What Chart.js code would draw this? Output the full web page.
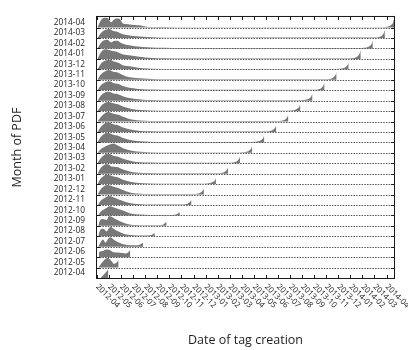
<!DOCTYPE html>
<html>
<head>
<meta charset="utf-8">
<script src="https://cdn.jsdelivr.net/npm/chart.js@4.4.1/dist/chart.umd.min.js"></script>
<style>
html,body{margin:0;padding:0;background:#fff;}
#wrap{width:408px;height:350px;}
</style>
</head>
<body>
<div id="wrap"><canvas id="c" width="408" height="350"></canvas></div>
<script>
// Categories: month of PDF (rows) and month of tag creation (x ticks)
const months = ['2012-04','2012-05','2012-06','2012-07','2012-08','2012-09','2012-10','2012-11','2012-12',
  '2013-01','2013-02','2013-03','2013-04','2013-05','2013-06','2013-07','2013-08','2013-09','2013-10',
  '2013-11','2013-12','2014-01','2014-02','2014-03','2014-04'];
const xTickLabels = months;
const xTitle = 'Date of tag creation';
const yTitle = 'Month of PDF';

// Density per row: [month index of tag creation, relative density height (1 = row spacing)]
const p2012_04 = [[0.3,0],[0.55,0.3],[0.8,0.62],[0.93,0.82],[0.95,0]];
const p2012_05 = [[0.12,0],[0.35,0.38],[0.6,0.72],[0.85,0.92],[1.0,0.88],[1.2,0.62],[1.4,0.34],[1.6,0.45],[1.78,0.68],[1.8,0]];
const p2012_06 = [[0.14,0],[0.18,0.5],[0.5,0.6],[0.8,0.72],[1.0,0.7],[1.3,0.5],[1.7,0.44],[2.1,0.4],[2.4,0.36],[2.6,0.46],[2.75,0.66],[2.77,0]];
const p2012_07 = [[0.1,0],[0.3,0.42],[0.5,0.68],[0.7,0.38],[0.9,0.72],[1.1,0.9],[1.4,0.66],[1.8,0.4],[2.1,0.25],[2.5,0.17],[3.0,0.14],[3.4,0.15],[3.65,0.27],[3.8,0.38],[3.82,0]];
const p2012_08 = [[0.1,0],[0.25,0.55],[0.45,0.72],[0.6,0.68],[0.8,0.45],[1.0,0.82],[1.15,0.9],[1.4,0.7],[1.8,0.45],[2.2,0.25],[2.6,0.14],[3.0,0.09],[3.5,0.07],[4.0,0.07],[4.5,0.12],[4.78,0.3],[4.8,0]];
const p2012_09 = [[0.1,0],[0.25,0.5],[0.45,0.66],[0.65,0.6],[0.8,0.56],[1.0,0.95],[1.2,0.86],[1.5,0.65],[1.9,0.45],[2.3,0.25],[2.7,0.14],[3.2,0.08],[4.0,0.05],[5.0,0.05],[5.5,0.12],[5.76,0.36],[5.78,0]];
const p2012_10 = [[0.1,0],[0.3,0.35],[0.6,0.6],[0.8,0.72],[1.0,0.88],[1.2,0.85],[1.5,0.7],[1.8,0.6],[2.1,0.5],[2.5,0.3],[2.9,0.15],[3.5,0.08],[4.5,0.05],[5.5,0.04],[6.3,0.05],[6.65,0.13],[6.85,0.3],[6.87,0]];
const p2012_11 = [[0.08,0],[0.3,0.4],[0.6,0.65],[0.85,0.82],[1.0,0.86],[1.3,0.76],[1.6,0.62],[2.0,0.45],[2.4,0.28],[2.8,0.16],[3.3,0.09],[4.0,0.05],[5.5,0.035],[7.0,0.04],[7.45,0.1],[7.68,0.25],[7.82,0.45],[7.84,0]];
const p2012_12 = [[0.05,0],[0.25,0.42],[0.5,0.72],[0.8,0.92],[1.0,0.9],[1.3,0.78],[1.7,0.65],[2.0,0.5],[2.4,0.32],[2.8,0.18],[3.3,0.1],[4.0,0.06],[5.5,0.04],[7.9,0.04],[8.4,0.1],[8.65,0.24],[8.78,0.4],[8.85,0.56],[8.87,0]];
const p2013_01 = [[0.05,0],[0.25,0.45],[0.55,0.78],[0.8,0.92],[1.0,0.88],[1.3,0.76],[1.7,0.66],[2.1,0.45],[2.5,0.3],[3.0,0.17],[3.5,0.1],[4.2,0.06],[6.0,0.04],[8.9,0.04],[9.4,0.1],[9.65,0.24],[9.78,0.38],[9.85,0.55],[9.87,0]];
const p2013_02 = [[0.05,0],[0.25,0.45],[0.55,0.8],[0.8,0.93],[1.0,0.85],[1.2,0.68],[1.5,0.65],[1.75,0.62],[2.1,0.42],[2.5,0.27],[2.9,0.16],[3.5,0.1],[4.2,0.06],[6.0,0.04],[9.9,0.04],[10.4,0.1],[10.65,0.24],[10.78,0.4],[10.85,0.57],[10.87,0]];
const p2013_03 = [[0.05,0],[0.25,0.4],[0.55,0.75],[0.85,0.92],[1.05,0.88],[1.35,0.72],[1.7,0.64],[2.1,0.45],[2.5,0.3],[3.0,0.17],[3.6,0.1],[4.3,0.06],[6.0,0.04],[10.9,0.04],[11.4,0.1],[11.65,0.25],[11.78,0.42],[11.85,0.6],[11.87,0]];
const p2013_04 = [[0.05,0],[0.3,0.35],[0.6,0.55],[0.9,0.72],[1.2,0.85],[1.4,0.9],[1.6,0.78],[1.9,0.6],[2.2,0.42],[2.6,0.28],[3.0,0.18],[3.6,0.1],[4.3,0.06],[6.0,0.04],[11.9,0.04],[12.4,0.1],[12.65,0.25],[12.78,0.42],[12.85,0.6],[12.87,0]];
const p2013_05 = [[0.05,0],[0.25,0.42],[0.55,0.78],[0.85,0.92],[1.05,0.88],[1.35,0.74],[1.7,0.66],[2.1,0.45],[2.5,0.3],[3.0,0.18],[3.6,0.1],[4.3,0.06],[6.0,0.04],[12.9,0.04],[13.4,0.1],[13.65,0.25],[13.78,0.42],[13.85,0.6],[13.87,0]];
const p2013_06 = [[0.05,0],[0.3,0.45],[0.6,0.78],[0.9,0.9],[1.1,0.86],[1.4,0.72],[1.75,0.65],[2.1,0.45],[2.5,0.3],[3.0,0.18],[3.6,0.1],[4.3,0.06],[6.0,0.04],[13.9,0.04],[14.4,0.1],[14.65,0.25],[14.78,0.43],[14.85,0.62],[14.87,0]];
const p2013_07 = [[0.05,0],[0.3,0.42],[0.6,0.75],[0.95,0.9],[1.15,0.85],[1.45,0.72],[1.8,0.64],[2.15,0.45],[2.55,0.3],[3.0,0.18],[3.6,0.1],[4.4,0.06],[6.0,0.04],[14.9,0.04],[15.4,0.1],[15.65,0.25],[15.78,0.43],[15.85,0.62],[15.87,0]];
const p2013_08 = [[0.05,0],[0.3,0.45],[0.6,0.76],[0.95,0.88],[1.2,0.8],[1.5,0.7],[1.8,0.64],[2.15,0.45],[2.55,0.3],[3.0,0.18],[3.6,0.1],[4.4,0.06],[6.0,0.04],[15.9,0.04],[16.4,0.1],[16.65,0.26],[16.78,0.44],[16.85,0.64],[16.87,0]];
const p2013_09 = [[0.05,0],[0.3,0.45],[0.6,0.75],[1.0,0.86],[1.3,0.72],[1.6,0.65],[1.9,0.55],[2.2,0.4],[2.7,0.25],[3.2,0.15],[3.8,0.09],[4.5,0.06],[6.0,0.04],[16.9,0.04],[17.4,0.1],[17.65,0.26],[17.78,0.45],[17.85,0.65],[17.87,0]];
const p2013_10 = [[0.05,0],[0.3,0.45],[0.65,0.75],[1.03,0.86],[1.35,0.7],[1.72,0.62],[2.05,0.45],[2.41,0.31],[2.8,0.21],[3.24,0.15],[3.8,0.1],[4.6,0.06],[6.0,0.04],[17.9,0.04],[18.4,0.1],[18.65,0.27],[18.78,0.47],[18.85,0.68],[18.87,0]];
const p2013_11 = [[0.05,0],[0.3,0.48],[0.65,0.8],[1.03,0.93],[1.35,0.78],[1.72,0.71],[2.05,0.5],[2.41,0.31],[3.0,0.2],[3.52,0.15],[4.2,0.09],[5.0,0.06],[6.5,0.04],[18.9,0.04],[19.4,0.1],[19.65,0.28],[19.78,0.49],[19.85,0.71],[19.87,0]];
const p2013_12 = [[0.05,0],[0.3,0.5],[0.6,0.8],[0.9,0.93],[1.17,0.9],[1.4,0.76],[1.58,0.71],[1.85,0.58],[2.13,0.4],[2.5,0.31],[2.96,0.25],[3.4,0.16],[3.8,0.1],[4.6,0.06],[6.5,0.04],[19.9,0.04],[20.4,0.1],[20.65,0.25],[20.78,0.43],[20.85,0.62],[20.87,0]];
const p2014_01 = [[0.05,0],[0.3,0.6],[0.55,0.88],[0.75,0.93],[1.0,0.85],[1.3,0.76],[1.58,0.71],[1.9,0.55],[2.3,0.4],[2.96,0.31],[3.5,0.2],[4.0,0.14],[4.6,0.09],[5.5,0.06],[7.0,0.04],[20.9,0.045],[21.4,0.11],[21.65,0.3],[21.78,0.55],[21.85,0.8],[21.87,0]];
const p2014_02 = [[0.05,0],[0.3,0.5],[0.6,0.78],[0.89,0.83],[1.05,0.66],[1.17,0.58],[1.4,0.72],[1.7,0.74],[2.0,0.52],[2.41,0.37],[2.9,0.27],[3.4,0.19],[3.8,0.15],[4.5,0.09],[5.5,0.06],[7.0,0.04],[21.9,0.045],[22.4,0.11],[22.65,0.28],[22.78,0.5],[22.85,0.74],[22.87,0]];
const p2014_03 = [[0.05,0],[0.2,0.3],[0.5,0.68],[0.8,0.82],[1.03,0.86],[1.3,0.7],[1.58,0.62],[1.85,0.5],[2.13,0.37],[2.6,0.27],[3.0,0.2],[3.52,0.15],[4.2,0.1],[5.0,0.06],[6.5,0.04],[22.9,0.045],[23.4,0.11],[23.65,0.28],[23.78,0.5],[23.85,0.74],[23.87,0]];
const p2014_04 = [[0.05,0],[0.2,0.45],[0.45,0.88],[0.61,0.95],[0.89,0.92],[1.05,0.65],[1.17,0.52],[1.35,0.7],[1.58,0.88],[1.86,0.85],[2.13,0.42],[2.4,0.34],[2.69,0.31],[3.1,0.26],[3.52,0.22],[3.9,0.14],[4.35,0.07],[5.0,0.05],[6.5,0.04],[23.7,0.045],[24.2,0.12],[24.45,0.32],[24.56,0.55],[24.62,0.8],[24.64,0]];

const rows = [p2012_04,p2012_05,p2012_06,p2012_07,p2012_08,p2012_09,p2012_10,p2012_11,p2012_12,
  p2013_01,p2013_02,p2013_03,p2013_04,p2013_05,p2013_06,p2013_07,p2013_08,p2013_09,p2013_10,
  p2013_11,p2013_12,p2014_01,p2014_02,p2014_03,p2014_04];

const FONT = "'Open Sans', 'DejaVu Sans', sans-serif";
const TEXT = '#1e1e1e';

const decor = {
  id: 'decor',
  afterDatasetsDraw(chart) {
    const {ctx, chartArea: a, scales: {x, y}} = chart;
    ctx.save();
    // dotted baselines
    ctx.strokeStyle = '#555';
    ctx.lineWidth = 1;
    ctx.setLineDash([1.5, 1.2]);
    for (let r = 1; r < months.length; r++) {
      const py = Math.round(y.getPixelForValue(r)) + 0.5;
      ctx.beginPath(); ctx.moveTo(a.left, py); ctx.lineTo(a.right, py); ctx.stroke();
    }
    ctx.setLineDash([]);
    // frame
    ctx.strokeStyle = '#1a1a1a';
    ctx.lineWidth = 1;
    const L = a.left - 0.5, R = a.right + 0.5, T = a.top - 0.5, B = a.bottom + 0.5;
    ctx.strokeRect(L, T, R - L, B - T);
    // inward ticks
    ctx.beginPath();
    for (let i = 0; i < xTickLabels.length; i++) {
      const px = Math.round(x.getPixelForValue(i)) + 0.5;
      ctx.moveTo(px, B); ctx.lineTo(px, B - 3.5);
      ctx.moveTo(px, T); ctx.lineTo(px, T + 3.5);
    }
    for (let r = 0; r < months.length; r++) {
      const py = Math.round(y.getPixelForValue(r)) + 0.5;
      ctx.moveTo(L, py); ctx.lineTo(L + 3.5, py);
      ctx.moveTo(R, py); ctx.lineTo(R - 3.5, py);
    }
    ctx.stroke();
    ctx.restore();
  },
  afterDraw(chart) {
    const {ctx, chartArea: a, scales: {x}} = chart;
    ctx.save();
    ctx.fillStyle = TEXT;
    ctx.font = '8px ' + FONT;
    ctx.textAlign = 'left';
    ctx.textBaseline = 'middle';
    for (let i = 0; i < xTickLabels.length; i++) {
      const px = x.getPixelForValue(i);
      ctx.save();
      ctx.translate(px, a.bottom + 7.5);
      ctx.rotate(Math.PI / 4);
      ctx.fillText(xTickLabels[i], 0, 0);
      ctx.restore();
    }
    ctx.restore();
  }
};

new Chart(document.getElementById('c'), {
  type: 'line',
  data: {
    datasets: months.map((m, r) => ({
      label: m,
      data: rows[r].map(([xv, h]) => ({x: xv, y: r + h})),
      fill: {value: r},
      backgroundColor: '#787878',
      borderColor: 'rgba(0,0,0,0)',
      borderWidth: 0,
      pointRadius: 0,
      cubicInterpolationMode: 'monotone'
    }))
  },
  options: {
    responsive: false,
    animation: false,
    events: [],
    layout: {padding: {left: 0, right: 14, top: 8, bottom: 0}},
    plugins: {legend: {display: false}, tooltip: {enabled: false}},
    scales: {
      x: {
        type: 'linear',
        min: 0,
        max: 24.62,
        grid: {display: false, drawTicks: false},
        border: {display: false},
        ticks: {display: false},
        title: {display: true, text: xTitle, color: TEXT, font: {family: FONT, size: 12.5}, padding: {top: 0, bottom: 2.5}},
        afterFit(s) { s.height = 72; }
      },
      y: {
        type: 'linear',
        min: 0,
        max: 25.02,
        grid: {display: false, drawTicks: false},
        border: {display: false},
        afterBuildTicks(s) { s.ticks = months.map((m, i) => ({value: i + 0.5})); },
        ticks: {
          autoSkip: false,
          padding: 12,
          color: TEXT,
          font: {family: FONT, size: 8.3},
          callback: (v) => months[Math.round(v - 0.5)]
        },
        title: {display: true, text: yTitle, color: TEXT, font: {family: FONT, size: 12.5}, padding: {top: 9.5, bottom: 0}},
        afterFit(s) { s.width = 97; }
      }
    }
  },
  plugins: [decor]
});
</script>
</body>
</html>
